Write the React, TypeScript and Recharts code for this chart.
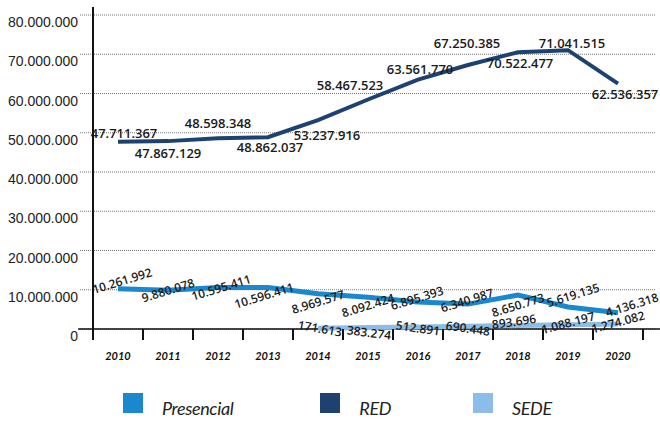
import { LineChart, Line, XAxis, YAxis, CartesianGrid, LabelList, Customized } from 'recharts';

const years = ['2010', '2011', '2012', '2013', '2014', '2015', '2016', '2017', '2018', '2019', '2020'];
const presencial = [10261992, 9880078, 10595411, 10596411, 8969577, 8092424, 6895393, 6340987, 8650773, 5619135, 4136318];
const red = [47711367, 47867129, 48598348, 48862037, 53237916, 58467523, 63561770, 67250385, 70522477, 71041515, 62536357];
const sede = [null, null, null, null, 171613, 383274, 512891, 690448, 893696, 1088197, 1274082];
const yTicks = [0, 10000000, 20000000, 30000000, 40000000, 50000000, 60000000, 70000000, 80000000];

const seriesNames = ['Presencial', 'RED', 'SEDE'];
const seriesColors = ['#1a88cf', '#1d4272', '#8cbde8'];

// label nudges [dx, dy] (and angle for the rotated ones)
const redLabelShift = [[6, -9], [0, 12], [0, -15], [2, 10], [9, 15], [-18, -15], [2, -11], [-1, -22], [2, 11], [4, -7], [7, 10]];
const presLabelShift = [[4, -8], [0, 0], [3, 0], [-4, 8], [0, 8], [0, 8], [-1, -4], [-1, -4], [0, 10], [5, -12], [14, -8]];
const sedeLabelShift = [[0, 0, 0], [0, 0, 0], [0, 0, 0], [0, 0, 0], [2, 0, 10], [1, 5, 7], [0, 1, 8], [0, 2, 8], [-4, -4, -8], [0, -2, -15], [0, -2, -15]];

const data = years.map((year, i) => ({
  year,
  presencial: presencial[i],
  red: red[i],
  sede: sede[i],
}));

const W = 660;
const H = 421;
const PLOT_LEFT = 80;
const PLOT_TOP = 15;
const PLOT_BOTTOM = 329;
const HALF_BAND = 25;

const fmt = (n: number) => String(n).replace(/\B(?=(\d{3})+(?!\d))/g, '.');

const YTick = ({ x, y, payload }: any) => (
  <text x={x} y={y + 7} textAnchor="end" dominantBaseline="central" fontFamily="'Liberation Sans', Arial, sans-serif" fontSize={14} fill="#222">
    {fmt(payload.value)}
  </text>
);

const XTick = ({ x, y, payload, index }: any) => (
  <g>
    <line x1={x - HALF_BAND} y1={y} x2={x - HALF_BAND} y2={y + 11} stroke="#111" strokeWidth={2} />
    {index === years.length - 1 && (
      <line x1={x + HALF_BAND} y1={y} x2={x + HALF_BAND} y2={y + 11} stroke="#111" strokeWidth={2} />
    )}
    <text x={x} y={y + 26} textAnchor="middle" dominantBaseline="central" fontFamily="Lato, sans-serif" fontStyle="italic" fontWeight={700} fontSize={11} fill="#111">
      {payload.value}
    </text>
  </g>
);

const redLabel = (props: any) => {
  const { x, y, value, index } = props;
  if (value == null) return null;
  const [dx, dy] = redLabelShift[index];
  return (
    <text x={x + dx} y={y + dy} textAnchor="middle" dominantBaseline="central" fontFamily="'Open Sans', sans-serif" fontWeight={600} fontSize={13} fill="#1a1a1a">
      {fmt(value)}
    </text>
  );
};

const presLabel = (props: any) => {
  const { x, y, value, index } = props;
  if (value == null) return null;
  const [dx, dy] = presLabelShift[index];
  const cx = x + dx;
  const cy = y + dy;
  return (
    <text x={cx} y={cy} transform={`rotate(-17 ${cx} ${cy})`} textAnchor="middle" dominantBaseline="central" fontFamily="'Open Sans', sans-serif" fontWeight={600} fontSize={12} fill="#1a1a1a">
      {fmt(value)}
    </text>
  );
};

const sedeLabel = (props: any) => {
  const { x, y, value, index } = props;
  if (value == null) return null;
  const [dx, dy, angle] = sedeLabelShift[index];
  const cx = x + dx;
  const cy = y + dy;
  return (
    <text x={cx} y={cy} transform={`rotate(${angle} ${cx} ${cy})`} textAnchor="middle" dominantBaseline="central" fontFamily="'Open Sans', sans-serif" fontWeight={600} fontSize={12} fill="#1a1a1a">
      {fmt(value)}
    </text>
  );
};

const AxisLines = () => (
  <g>
    <line x1={PLOT_LEFT - 2} y1={PLOT_BOTTOM} x2={W} y2={PLOT_BOTTOM} stroke="#111" strokeWidth={1.5} />
    <line x1={PLOT_LEFT + 13} y1={7} x2={PLOT_LEFT + 13} y2={PLOT_BOTTOM + 11} stroke="#111" strokeWidth={2} />
  </g>
);

export default function App() {
  return (
    <div style={{ position: 'absolute', left: 0, top: 0, width: W, height: H, background: '#fff', overflow: 'hidden' }}>
      <LineChart
        width={W}
        height={H}
        data={data}
        margin={{ top: PLOT_TOP, right: 5, bottom: H - PLOT_BOTTOM - 30, left: 0 }}
      >
        <CartesianGrid vertical={false} stroke="#777" strokeDasharray="1 1" />
        <XAxis
          dataKey="year"
          height={30}
          padding={{ left: 38, right: 37 }}
          axisLine={false}
          tickLine={false}
          tickSize={0}
          tickMargin={0}
          interval={0}
          tick={<XTick />}
        />
        <YAxis
          width={PLOT_LEFT}
          domain={[0, 80000000]}
          ticks={yTicks}
          interval={0}
          axisLine={false}
          tickLine={false}
          tickSize={0}
          tickMargin={2}
          tick={<YTick />}
        />
        <Customized component={AxisLines} />
        <Line type="linear" dataKey="presencial" stroke={seriesColors[0]} strokeWidth={5} dot={false} isAnimationActive={false}>
          <LabelList dataKey="presencial" content={presLabel} />
        </Line>
        <Line type="linear" dataKey="sede" stroke={seriesColors[2]} strokeWidth={5} dot={false} isAnimationActive={false}>
          <LabelList dataKey="sede" content={sedeLabel} />
        </Line>
        <Line type="linear" dataKey="red" stroke={seriesColors[1]} strokeWidth={4} dot={false} isAnimationActive={false}>
          <LabelList dataKey="red" content={redLabel} />
        </Line>
      </LineChart>
      <div style={{ position: 'absolute', left: 123, top: 393, height: 24, display: 'flex', alignItems: 'flex-start' }}>
        {seriesNames.map((name, i) => (
          <div key={name} style={{ display: 'flex', alignItems: 'flex-start', marginRight: i === 0 ? 87 : 82 }}>
            <div style={{ width: 20, height: 20, background: seriesColors[i] }} />
            <span style={{ marginLeft: 19, marginTop: 5, display: 'block', lineHeight: '20px', fontFamily: 'Lato, sans-serif', fontStyle: 'italic', fontSize: 18, color: '#222', letterSpacing: -0.4 }}>
              {name}
            </span>
          </div>
        ))}
      </div>
    </div>
  );
}
